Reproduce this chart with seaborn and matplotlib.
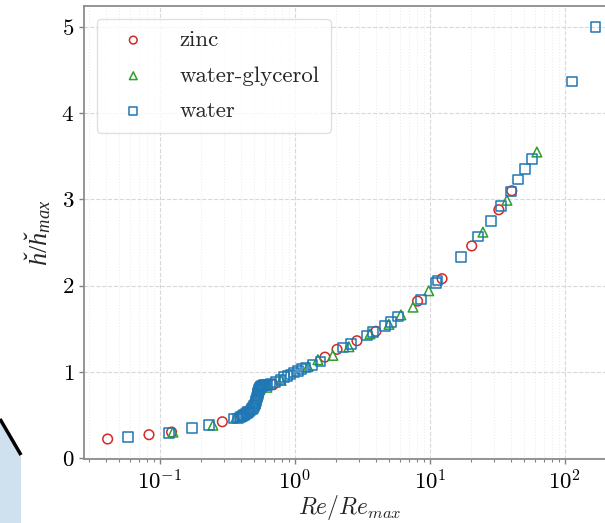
import matplotlib
matplotlib.use("Agg")
import matplotlib.pyplot as plt
import seaborn as sns
import pandas as pd
from matplotlib.ticker import LogLocator, NullFormatter

# Normalised jump height versus normalised Reynolds number
zinc_re = [0.041, 0.083, 0.122, 0.29, 0.40, 0.69, 1.67, 2.05, 2.88, 3.98,
           8.1, 12.3, 20.4, 32.4, 40.4]
zinc_h = [0.22, 0.27, 0.30, 0.42, 0.49, 0.85, 1.17, 1.26, 1.36, 1.47,
          1.82, 2.08, 2.46, 2.88, 3.10]

glyc_re = [0.125, 0.247, 0.366, 0.62, 0.79, 1.25, 1.48, 1.91, 2.51, 3.6,
           4.97, 6.1, 7.5, 9.8, 24.7, 37.2, 62.0]
glyc_h = [0.30, 0.38, 0.47, 0.82, 0.90, 1.06, 1.14, 1.19, 1.29, 1.44,
          1.55, 1.66, 1.75, 1.94, 2.62, 2.99, 3.55]

water_re = [0.058, 0.117, 0.172, 0.23, 0.35,
            0.380, 0.390, 0.400, 0.410, 0.420, 0.430, 0.440, 0.450, 0.460,
            0.470, 0.480, 0.490, 0.498, 0.505, 0.510, 0.515, 0.519, 0.523,
            0.527, 0.531, 0.535, 0.539, 0.543, 0.547, 0.551, 0.556, 0.562,
            0.570, 0.580, 0.592, 0.605,
            0.62, 0.66, 0.72, 0.78, 0.83, 0.88, 0.93, 0.98, 1.05, 1.12,
            1.20, 1.35, 1.55, 2.27, 2.60, 3.42, 3.80, 4.64, 5.13, 5.80,
            8.6, 11.1, 11.4, 17.0, 22.7, 28.3, 33.6, 39.8, 44.8, 50.5,
            56.9, 113.0, 169.0]
water_h = [0.24, 0.29, 0.35, 0.38, 0.46,
           0.46, 0.47, 0.48, 0.49, 0.50, 0.51, 0.52, 0.53, 0.54,
           0.55, 0.565, 0.58, 0.60, 0.62, 0.64, 0.66, 0.68, 0.70,
           0.72, 0.74, 0.76, 0.78, 0.79, 0.80, 0.81, 0.82, 0.83,
           0.835, 0.84, 0.845, 0.85,
           0.85, 0.86, 0.88, 0.91, 0.94, 0.95, 0.97, 0.99, 1.01, 1.03,
           1.05, 1.08, 1.12, 1.28, 1.32, 1.42, 1.46, 1.53, 1.58, 1.64,
           1.84, 2.03, 2.06, 2.33, 2.57, 2.75, 2.92, 3.09, 3.23, 3.35,
           3.47, 4.37, 5.00]

series_names = ["zinc", "water-glycerol", "water"]
series_markers = ["o", "^", "s"]
series_colors = ["#d62728", "#2ca02c", "#1f77b4"]

# Edge of the neighbouring panel (figure pixel coordinates)
panel_edge_x = [0, 21, 21, 0]
panel_edge_y = [419, 455, 523, 523]

frames = []
for name, re_vals, h_vals in zip(series_names,
                                 [zinc_re, glyc_re, water_re],
                                 [zinc_h, glyc_h, water_h]):
    frames.append(pd.DataFrame({"Re": re_vals, "h": h_vals, "fluid": name}))
df = pd.concat(frames, ignore_index=True)

sns.set_theme(style="whitegrid")
plt.rcParams.update({
    "font.family": "serif",
    "font.serif": ["cmr10"],
    "mathtext.fontset": "cm",
    # serif italic with a precomposed h-caron glyph, used for the y label
    "mathtext.it": "Liberation Serif:italic",
    "mathtext.rm": "Liberation Serif",
    "axes.formatter.use_mathtext": True,
    "axes.unicode_minus": False,
    "font.size": 16.5,
    "xtick.bottom": True,
    "ytick.left": True,
})

fig = plt.figure(figsize=(6.05, 5.23), dpi=100)

bg = fig.add_axes([0, 0, 1, 1], zorder=-1)
bg.set_xlim(0, 605)
bg.set_ylim(523, 0)
bg.axis("off")
bg.fill(panel_edge_x, panel_edge_y, color="#cfe0ef", lw=0)
bg.plot(panel_edge_x[:2], panel_edge_y[:2], color="black", lw=2.5,
        solid_capstyle="butt")

ax = fig.add_axes([84 / 605, 64 / 523, 532 / 605, 453 / 523])

for name, mk, col in zip(series_names, series_markers, series_colors):
    sub = df[df["fluid"] == name]
    sns.scatterplot(data=sub, x="Re", y="h", marker=mk, s=48, color=col,
                    facecolor="none", edgecolor=col, linewidth=1.1,
                    label=name, ax=ax, zorder=3)

ax.set_xscale("log")
ax.set_xlim(0.0274, 239)
ax.set_ylim(-0.012, 5.244)
ax.set_yticks([0, 1, 2, 3, 4, 5])
ax.xaxis.set_major_locator(LogLocator(base=10, numticks=10))
ax.xaxis.set_minor_locator(LogLocator(base=10, subs=range(2, 10), numticks=20))
ax.xaxis.set_minor_formatter(NullFormatter())

ax.grid(True, which="major", linestyle="--", color="#d8d8d8", linewidth=0.8)
ax.grid(True, which="minor", axis="x", linestyle=":", color="#eeeeee",
        linewidth=0.8)
ax.set_axisbelow(True)

for sp in ax.spines.values():
    sp.set_color("0.55")
    sp.set_linewidth(1.3)

ax.tick_params(which="major", length=3.5, width=1.0, color="0.5",
               labelcolor="black", pad=3.5, labelsize=16.5)
ax.tick_params(which="minor", axis="x", length=2.0, width=0.8, color="0.5",
               bottom=True)

ax.set_xlabel(r"$Re/Re_{max}$", fontsize=17, labelpad=0)
ax.set_ylabel("$ȟ/ȟ_{max}$", fontsize=19, labelpad=6,
              math_fontfamily="custom")

ax.legend(loc="upper left", borderaxespad=0.55, handlelength=2.2,
          handletextpad=0.9, labelspacing=0.68, borderpad=0.5, frameon=True,
          fancybox=True, edgecolor="0.85", framealpha=0.8, fontsize=16.5,
          markerscale=0.8)

fig.savefig("out.png", dpi=100)
